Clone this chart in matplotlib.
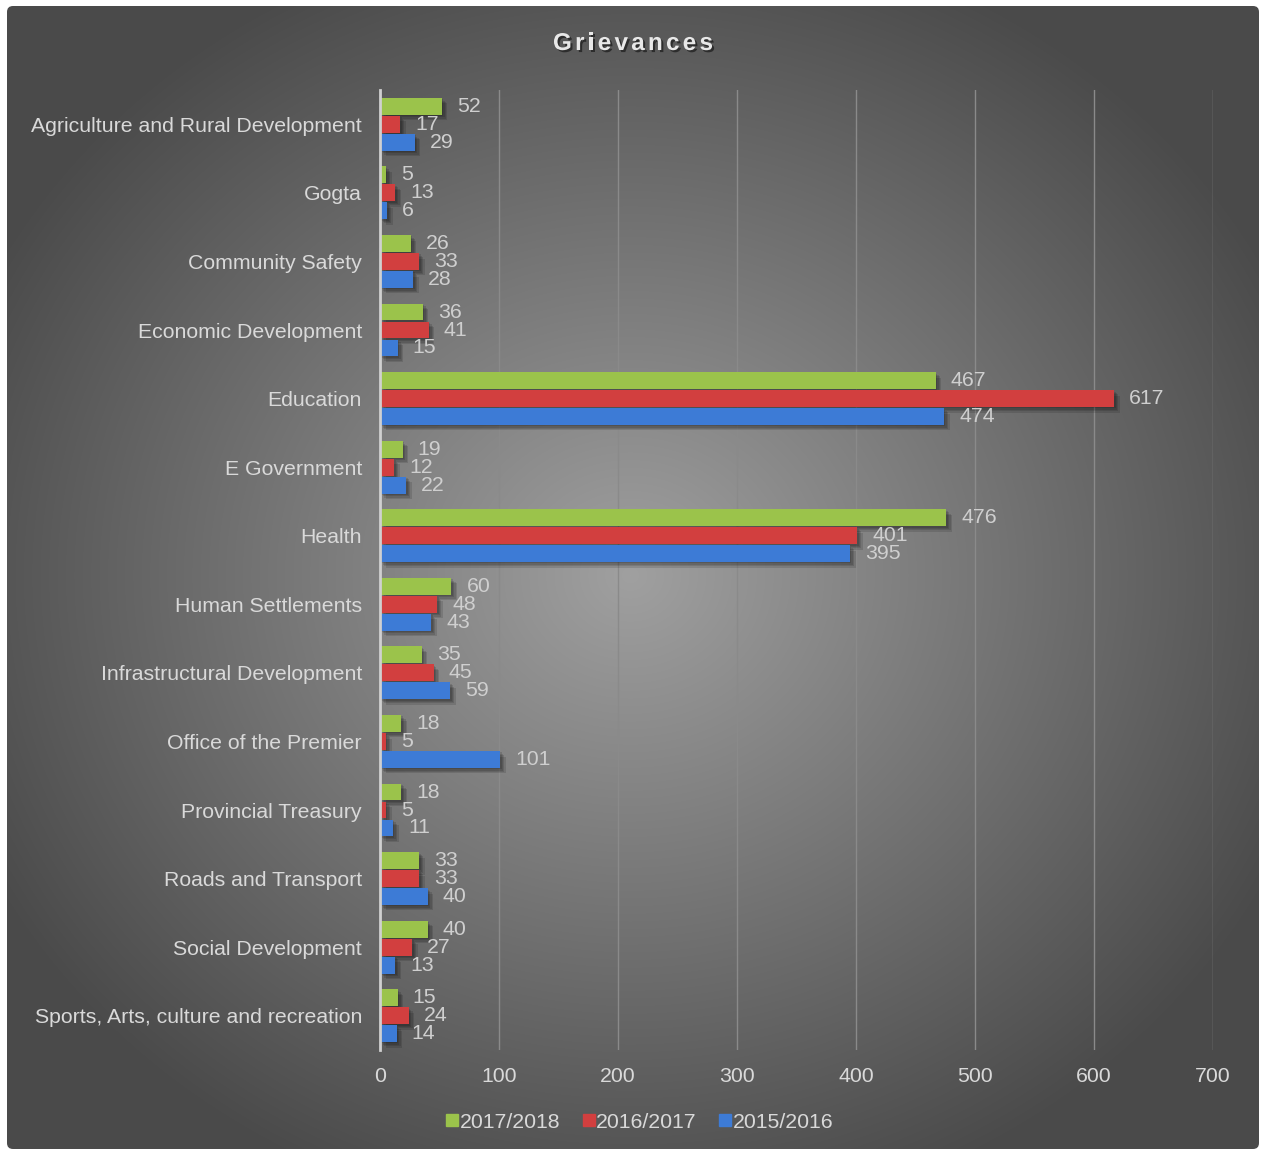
import matplotlib
matplotlib.use("agg")
import matplotlib.pyplot as plt
import matplotlib.patheffects as pe
from matplotlib.patches import FancyBboxPatch
from matplotlib.lines import Line2D
import numpy as np

plt.rcParams['font.family'] = ['Liberation Sans', 'DejaVu Sans']

categories = ["Agriculture and Rural Development", "Gogta", "Community Safety",
              "Economic Development", "Education", "E Government", "Health",
              "Human Settlements", "Infrastructural Development", "Office of the Premier",
              "Provincial Treasury", "Roads and Transport", "Social Development",
              "Sports, Arts, culture and recreation"]
y2017 = [52, 5, 26, 36, 467, 19, 476, 60, 35, 18, 18, 33, 40, 15]
y2016 = [17, 13, 33, 41, 617, 12, 401, 48, 45, 5, 5, 33, 27, 24]
y2015 = [29, 6, 28, 15, 474, 22, 395, 43, 59, 101, 11, 40, 13, 14]
series_names = ["2017/2018", "2016/2017", "2015/2016"]
colors = ["#9bc34b", "#d23f3f", "#3d7bd6"]

W, H = 1261, 1151
fig = plt.figure(figsize=(W / 100, H / 100), dpi=100)
fig.patch.set_facecolor("white")

# background with radial gradient
bg = fig.add_axes([0, 0, 1, 1], zorder=0)
bg.set_xlim(0, W)
bg.set_ylim(H, 0)
bg.axis("off")
xx, yy = np.meshgrid(np.arange(W), np.arange(H))
d = np.sqrt(((xx - 630) / 630.0) ** 2 + ((yy - 575) / 575.0) ** 2)
v = np.clip(1 - d / 1.15, 0, 1)
grey = (0x4a + (0xa0 - 0x4a) * v) / 255.0
img = bg.imshow(np.dstack([grey, grey, grey]), extent=(0, W, H, 0), aspect="auto")
frame = FancyBboxPatch((7, 6), W - 9, H - 8, boxstyle="round,pad=0,rounding_size=6",
                       transform=bg.transData, facecolor="none", edgecolor="none")
bg.add_patch(frame)
img.set_clip_path(frame)

ax = fig.add_axes([380 / W, 1 - 1050 / H, (1213 - 380) / W, 960 / H], zorder=1)
ax.patch.set_alpha(0)

fs = 15.3
pos = np.arange(len(categories))
bar_h = 0.245
step = 0.262
# soft shadow made of a few faint offset copies
shadow = [pe.SimplePatchShadow(offset=(k, -k), shadow_rgbFace="black", alpha=0.12) for k in (1, 2, 3, 4)]
shadow.append(pe.Normal())
for i, (vals, col) in enumerate(zip([y2017, y2016, y2015], colors)):
    ys = pos + (i - 1) * step
    bars = ax.barh(ys, vals, height=bar_h, color=col, zorder=3)
    for b in bars:
        b.set_path_effects(shadow)
    for y, val in zip(ys, vals):
        ax.annotate(str(val), (val, y), xytext=(15, 0), textcoords="offset pixels",
                    va="center", ha="left", fontsize=fs, color="#cfcfcf", zorder=4)

ax.set_xlim(0, 700)
ax.set_ylim(13.5, -0.5)
ax.set_xticks(range(0, 701, 100))
ax.set_yticks(pos)
ax.set_yticklabels(categories)
ax.tick_params(axis="both", length=0, labelsize=fs, labelcolor="#d9d9d9")
ax.tick_params(axis="y", pad=13)
ax.tick_params(axis="x", pad=12)
ax.grid(axis="x", color="#8a8a8a", linewidth=1, zorder=0)
for s in ["top", "right", "bottom"]:
    ax.spines[s].set_visible(False)
ax.spines["left"].set_color("#d0d0d0")
ax.spines["left"].set_linewidth(2)
ax.spines["left"].set_zorder(5)

# title with letter spacing
renderer = fig.canvas.get_renderer()
title = "Grievances"
chars = []
total = 0
gap = 3.2
for ch in title:
    t = fig.text(0, 0, ch, fontsize=17.5, fontweight="bold", color="#e8e8e8")
    w = t.get_window_extent(renderer).width
    chars.append((t, w))
    total += w + gap
total -= gap
x0 = 633 - total / 2
for t, w in chars:
    t.set_position((x0 / W, 1 - 50 / H))
    t.set_path_effects([pe.SimplePatchShadow(offset=(1.5, -1.5), shadow_rgbFace="black", alpha=0.5), pe.Normal()])
    x0 += w + gap

handles = [Line2D([], [], marker="s", linestyle="none", markersize=9, color=c) for c in colors]
fig.legend(handles, series_names, loc="center", bbox_to_anchor=(638 / W, 1 - 1122 / H), ncol=3,
           frameon=False, fontsize=fs, labelcolor="#d9d9d9", handletextpad=-0.1,
           handlelength=0.9, columnspacing=0.9)

fig.savefig("out.png", dpi=100)
